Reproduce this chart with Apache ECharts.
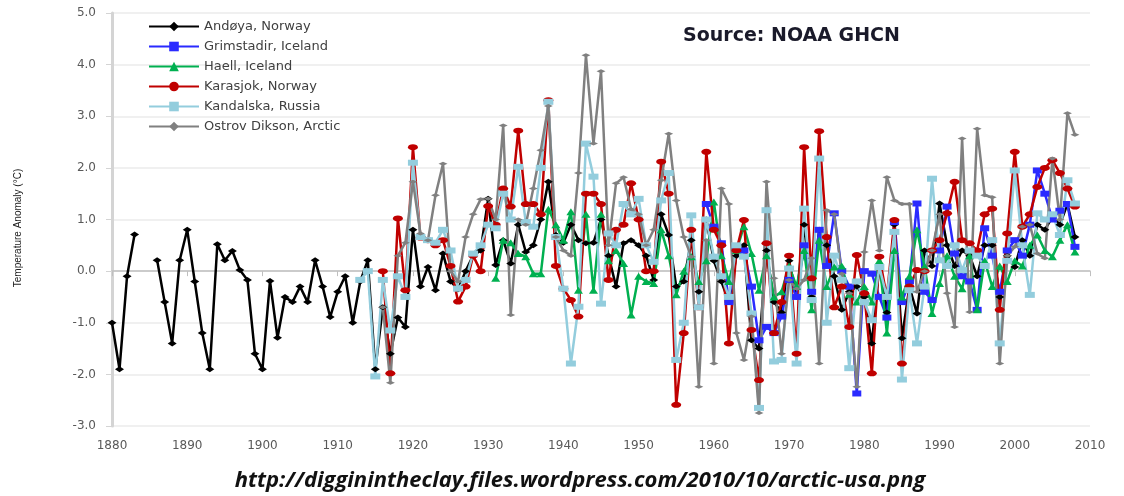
<!DOCTYPE html>
<html>
<head>
<meta charset="utf-8">
<script src="https://cdn.jsdelivr.net/npm/echarts@6/dist/echarts.min.js"></script>
<style>
html, body { margin: 0; padding: 0; background: #fff; }
#chart { width: 1124px; height: 496px; }
</style>
</head>
<body>
<div id="chart"></div>
<script>
// temperature anomaly (°C), one value per year from the start year
var andoyaStart = 1880;
var andoya = [
	-1.0, -1.9, -0.1, 0.71, null, null, 0.21, -0.6, -1.4, 0.21,
	0.8, -0.2, -1.2, -1.9, 0.52, 0.21, 0.39, 0.02, -0.17, -1.6,
	-1.9, -0.19, -1.29, -0.5, -0.6, -0.3, -0.6, 0.21, -0.3, -0.89,
	-0.4, -0.1, -1.0, -0.2, 0.21, -1.9, -0.7, -1.6, -0.9, -1.08,
	0.8, -0.3, 0.08, -0.37, 0.34, -0.2, -0.35, 0.0, 0.3, 0.4,
	1.4, 0.12, 0.6, 0.15, 0.9, 0.37, 0.5, 1.0, 1.73, 0.7,
	0.55, 0.9, 0.6, 0.54, 0.55, 1.0, 0.3, -0.3, 0.54, 0.6,
	0.5, 0.3, -0.17, 1.1, 0.7, -0.3, -0.2, 0.6, -0.4, 1.0,
	0.2, -0.2, -0.6, 0.3, 0.5, -1.34, -1.5, 0.4, -0.6, -0.8,
	0.2, -0.5, 0.9, -0.5, 0.8, 0.5, -0.1, -0.75, -0.4, -0.3,
	-0.5, -1.4, 0.1, -0.8, 0.9, -1.3, -0.3, -0.82, 0.4, 0.1,
	1.31, 0.5, 0.1, 0.4, 0.3, -0.1, 0.5, 0.5, -0.5, 0.3,
	0.08, 0.6, 0.3, 0.9, 0.8, 1.05, 0.9, 1.3, 0.66
];
var grimStart = 1959;
var grimstadir = [
	1.3, 0.86, 0.54, -0.6, 0.47, 0.4, -0.3, -1.34, -1.08, -1.2, -0.88,
	-0.17, -0.5, 0.5, -0.4, 0.8, 0.1, 1.12, 0.0, -0.3, -2.37,
	0.0, -0.05, -0.5, -0.9, 0.95, -0.6, -0.2, 1.31, -0.4, -0.56,
	0.4, 1.25, 0.34, -0.1, -0.2, -0.75, 0.83, 0.3, -0.4, 0.4,
	0.6, 0.3, 0.9, 1.95, 1.5, 1.0, 1.17, 1.3, 0.47
];
var haellStart = 1931;
var haell = [
	-0.14, 0.6, 0.55, 0.34, 0.28, -0.05, -0.05, 1.2, 0.9,
	0.6, 1.15, -0.37, 1.1, -0.37, 1.1, 0.2, 0.4, 0.15, -0.85,
	-0.1, -0.2, -0.24, 0.8, 0.3, -0.46, 0.0, 0.28, -0.2, 0.2,
	1.34, 0.3, -0.2, 0.4, 0.86, 0.34, -0.37, 0.3, -0.5, -0.4,
	0.1, -0.3, 0.4, -0.75, 0.6, -0.3, 0.08, 0.1, -0.45, -0.6,
	-0.3, -0.6, 0.2, -1.2, 0.4, -0.5, -0.1, 0.8, 0.1, -0.82,
	-0.24, 0.3, -0.1, -0.34, 0.3, -0.75, 0.2, -0.3, 0.1, -0.2,
	0.2, 0.1, 0.5, 0.7, 0.4, 0.28, 0.6, 0.9, 0.37
];
var karasStart = 1916;
var karasjok = [
	0.0, -1.98, 1.02, -0.37,
	2.4, 0.65, 0.6, 0.5, 0.6, 0.1, -0.59, -0.3, 0.3, 0.0,
	1.26, 0.9, 1.6, 1.25, 2.72, 1.3, 1.3, 1.1, 3.31, 0.1,
	-0.34, -0.56, -0.88, 1.5, 1.5, 1.3, -0.17, 0.8, 0.9, 1.7,
	1.0, 0.0, 0.0, 2.12, 1.5, -2.59, -1.2, 0.8, -0.7, 2.31,
	0.8, 0.5, -1.4, 0.4, 0.99, -1.14, -2.11, 0.54, -1.2, -0.6,
	0.3, -1.6, 2.4, -0.14, 2.71, 0.66, -0.7, -0.3, -1.08, 0.31,
	-0.43, -1.98, 0.28, -0.5, 0.99, -1.79, -0.3, 0.02, 0.0, 0.4,
	0.6, 1.12, 1.73, 0.6, 0.54, 0.4, 1.1, 1.21, -0.75, 0.73,
	2.31, 0.86, 1.1, 1.63, 2.0, 2.15, 1.9, 1.6, 1.25
];
var kandStart = 1913;
var kandalska = [
	-0.17, 0.0, -2.04, -0.17, -1.15, -0.1, -0.5,
	2.1, 0.66, 0.6, 0.55, 0.8, 0.4, -0.34, -0.17, 0.34, 0.5,
	0.9, 0.83, 1.5, 1.0, 2.02, 0.95, 0.86, 2.0, 3.28, 0.66,
	-0.34, -1.79, -0.69, 2.47, 1.83, -0.63, 0.73, 0.5, 1.3, 1.1,
	1.4, 0.5, 0.18, 1.37, 1.9, -1.72, -1.0, 1.08, -0.7, 1.0,
	0.28, -0.1, -0.5, 0.5, 0.28, -0.82, -2.65, 1.18, -1.75, -1.72,
	0.05, -1.79, 1.21, -0.56, 2.18, -1.0, 0.3, -0.17, -1.88, -0.2,
	-0.6, -0.95, 0.08, -0.5, 0.76, -2.1, -0.37, -1.4, -0.3, 1.79,
	0.21, 0.1, 0.5, 0.02, 0.4, 0.3, 0.1, 0.6, -1.4, 0.2,
	1.95, 0.5, -0.46, 1.12, 1.0, 1.1, 0.7, 1.76, 1.31
];
var diksonStart = 1916;
var dikson = [
	-0.7, -2.16, 0.3, 0.55,
	1.73, 0.73, 0.6, 1.47, 2.08, 0.0, -0.2, 0.66, 1.1, 1.39,
	1.4, 1.0, 2.82, -0.85, 1.0, 0.9, 1.6, 2.34, 3.2, 0.66,
	0.4, 0.3, 1.9, 4.18, 2.47, 3.87, 0.5, 1.7, 1.82, 1.2,
	1.1, 0.5, 0.8, 1.76, 2.66, 1.37, 0.66, 0.28, -2.24, 0.6,
	-1.79, 1.6, 1.3, -1.2, -1.72, -0.88, -2.75, 1.73, -0.14, -1.6,
	-0.17, -0.34, -0.17, 0.25, -1.79, 1.18, 1.1, -0.05, -0.43, -2.24,
	0.37, 1.37, 0.4, 1.82, 1.37, 1.3, 1.3, -0.4, 0.0, 0.4,
	1.1, -0.43, -1.08, 2.57, -0.79, 2.76, 1.47, 1.43, -1.79, 0.3,
	0.47, 0.86, 0.9, 0.34, 0.25, 2.18, 1.0, 3.06, 2.64
];
var yTicks = [-3, -2, -1, 0, 1, 2, 3, 4, 5];

function pairs(start, vals) {
	return vals.map(function(v, i) {
		return [start + i, v];
	});
}

function line(name, color, symbol, size, start, vals) {
	return {
		name : name,
		type : 'line',
		data : pairs(start, vals),
		symbol : symbol,
		symbolSize : size,
		showSymbol : true,
		lineStyle : { color : color, width : 2.5 },
		itemStyle : { color : color },
		emphasis : { disabled : true }
	};
}

var myChart = echarts.init(document.getElementById('chart'));
var option = {
	animation : false,
	backgroundColor : '#fff',
	grid : { left : 112, right : 34, top : 13, bottom : 70 },
	legend : {
		orient : 'vertical',
		left : 143,
		top : 15,
		itemWidth : 50,
		itemHeight : 12,
		itemGap : 7,
		textStyle : { color : '#404040', fontSize : 13, fontFamily : 'DejaVu Sans' }
	},
	xAxis : {
		type : 'value',
		min : 1880,
		max : 2010,
		interval : 10,
		axisLine : { show : true, lineStyle : { color : '#bfbfbf', width : 1.5 } },
		axisTick : { show : true, length : 5, lineStyle : { color : '#bfbfbf' } },
		axisLabel : {
			color : '#595959', fontSize : 12, fontFamily : 'DejaVu Sans', margin : 14,
			formatter : function(v) { return String(v); }
		},
		splitLine : { show : false }
	},
	yAxis : {
		type : 'value',
		min : yTicks[0],
		max : yTicks[yTicks.length - 1],
		interval : 1,
		axisLine : { show : true, lineStyle : { color : '#d4d4d4', width : 3 } },
		axisTick : { show : true, length : 6, lineStyle : { color : '#d4d4d4' } },
		axisLabel : {
			color : '#595959', fontSize : 12, fontFamily : 'DejaVu Sans', margin : 16,
			formatter : function(v) { return v.toFixed(1); }
		},
		splitLine : { lineStyle : { color : '#ebebeb', width : 1.5 } }
	},
	graphic : [ {
		type : 'text',
		x : 683,
		y : 36,
		style : {
			text : 'Source: NOAA GHCN',
			fontSize : 19,
			fontWeight : 'bold',
			fontFamily : 'DejaVu Sans',
			fill : '#1a1a2a',
			align : 'left',
			verticalAlign : 'middle'
		}
	}, {
		type : 'text',
		x : 18,
		y : 228,
		rotation : Math.PI / 2,
		style : {
			text : 'Temperature Anomaly (°C)',
			fontSize : 10,
			fontFamily : 'Liberation Sans',
			fill : '#222',
			align : 'center',
			verticalAlign : 'middle'
		}
	}, {
		type : 'text',
		x : 580,
		y : 481,
		style : {
			text : 'http://digginintheclay.files.wordpress.com/2010/10/arctic-usa.png',
			fontSize : 22,
			fontWeight : 'bold',
			fontStyle : 'italic',
			fontFamily : 'Open Sans',
			fill : '#111',
			align : 'center',
			verticalAlign : 'middle'
		}
	} ],
	series : [
		line('Andøya, Norway', '#000000', 'diamond', [9, 6], andoyaStart, andoya),
		line('Grimstadir, Iceland', '#2a2aff', 'rect', [9, 6], grimStart, grimstadir),
		line('Haell, Iceland', '#00b050', 'triangle', [9, 7], haellStart, haell),
		line('Karasjok, Norway', '#c00000', 'circle', [10, 6], karasStart, karasjok),
		line('Kandalska, Russia', '#93cddd', 'rect', [10, 6], kandStart, kandalska),
		line('Ostrov Dikson, Arctic', '#808080', 'diamond', [9, 4], diksonStart, dikson)
	]
};
myChart.setOption(option);
</script>
</body>
</html>
